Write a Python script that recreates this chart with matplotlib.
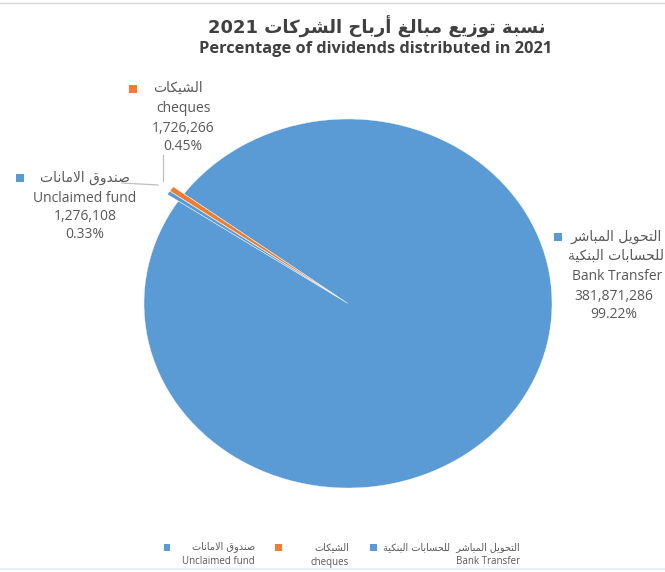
import re
import matplotlib
matplotlib.use("Agg")
import matplotlib.pyplot as plt
from matplotlib.patches import Rectangle
from matplotlib.lines import Line2D

# ---------------- data ----------------
title_ar = "نسبة توزيع مبالغ أرباح الشركات 2021"
title_en = "Percentage of dividends distributed in 2021"
cat_ar = ["التحويل المباشر للحسابات البنكية", "الشيكات", "صندوق الامانات"]
cat_en = ["Bank Transfer", "cheques", "Unclaimed fund"]
values = [381871286, 1726266, 1276108]
value_labels = ["381,871,286", "1,726,266", "1,276,108"]
pct_labels = ["99.22%", "0.45%", "0.33%"]
colors = ["#5B9BD5", "#ED7D31", "#5B9BD5"]

# ------------- minimal Arabic shaping (presentation forms) -------------
FORMS = {
    '\u0627': ('\uFE8D', '\uFE8E', None, None),
    '\u0623': ('\uFE83', '\uFE84', None, None),
    '\u0628': ('\uFE8F', '\uFE90', '\uFE91', '\uFE92'),
    '\u0629': ('\uFE93', '\uFE94', None, None),
    '\u062A': ('\uFE95', '\uFE96', '\uFE97', '\uFE98'),
    '\u062D': ('\uFEA1', '\uFEA2', '\uFEA3', '\uFEA4'),
    '\u062F': ('\uFEA9', '\uFEAA', None, None),
    '\u0631': ('\uFEAD', '\uFEAE', None, None),
    '\u0632': ('\uFEAF', '\uFEB0', None, None),
    '\u0633': ('\uFEB1', '\uFEB2', '\uFEB3', '\uFEB4'),
    '\u0634': ('\uFEB5', '\uFEB6', '\uFEB7', '\uFEB8'),
    '\u0635': ('\uFEB9', '\uFEBA', '\uFEBB', '\uFEBC'),
    '\u0639': ('\uFEC9', '\uFECA', '\uFECB', '\uFECC'),
    '\u063A': ('\uFECD', '\uFECE', '\uFECF', '\uFED0'),
    '\u0642': ('\uFED5', '\uFED6', '\uFED7', '\uFED8'),
    '\u0643': ('\uFED9', '\uFEDA', '\uFEDB', '\uFEDC'),
    '\u0644': ('\uFEDD', '\uFEDE', '\uFEDF', '\uFEE0'),
    '\u0645': ('\uFEE1', '\uFEE2', '\uFEE3', '\uFEE4'),
    '\u0646': ('\uFEE5', '\uFEE6', '\uFEE7', '\uFEE8'),
    '\u0648': ('\uFEED', '\uFEEE', None, None),
    '\u064A': ('\uFEF1', '\uFEF2', '\uFEF3', '\uFEF4'),
}
LAMALEF = {'\u0627': ('\uFEFB', '\uFEFC', None, None),
           '\u0623': ('\uFEF7', '\uFEF8', None, None)}


def shape(s):
    toks = []
    i = 0
    while i < len(s):
        c = s[i]
        if c == '\u0644' and i + 1 < len(s) and s[i + 1] in LAMALEF:
            toks.append(LAMALEF[s[i + 1]])
            i += 2
            continue
        toks.append(FORMS.get(c, c))
        i += 1
    out = []
    for k, t in enumerate(toks):
        if isinstance(t, str):
            out.append(t)
            continue
        prev = k > 0 and isinstance(toks[k - 1], tuple) and toks[k - 1][2] is not None
        nxt = (t[2] is not None and k + 1 < len(toks) and isinstance(toks[k + 1], tuple))
        if prev and nxt:
            out.append(t[3])
        elif prev:
            out.append(t[1])
        elif nxt:
            out.append(t[2])
        else:
            out.append(t[0])
    return ''.join(out)


def ar(s):
    shaped = shape(s)
    runs = re.findall(r'[0-9,.%]+|[^0-9,.%]+', shaped)
    runs = runs[::-1]
    return ''.join(r if re.fullmatch(r'[0-9,.%]+', r) else r[::-1] for r in runs)


FAM = ['Open Sans', 'DejaVu Sans']
FAM_AR = ['DejaVu Sans']
GRAY = '#595959'

W, H = 665, 572
fig = plt.figure(figsize=(W / 100, H / 100), dpi=100)


def fx(px):
    return px / W


def fy(py):
    return 1 - py / H


# pie axes: ellipse centre (348, 303.5), rx 204, ry 184.5 px
cx, cy, rx, ry = 348, 303.5, 204, 184.5
lim = 1.3
ax = fig.add_axes([fx(cx - lim * rx), fy(cy + lim * ry), 2 * lim * rx / W, 2 * lim * ry / H])
ax.pie(values, colors=colors, startangle=146.3, counterclock=True,
       explode=[0, 0.065, 0.065],
       wedgeprops=dict(edgecolor='white', linewidth=0.25))
ax.set_aspect('auto')
ax.set_xlim(-lim, lim)
ax.set_ylim(-lim, lim)
ax.axis('off')

# frame lines
fig.add_artist(Line2D([0, 1], [fy(3), fy(3)], color='#D9D9D9', lw=1))
fig.add_artist(Line2D([0, 1], [fy(569), fy(569)], color='#E6EEF6', lw=1.5))

# title
fig.text(fx(377), fy(27), ar(title_ar), family=FAM_AR, fontsize=13,
         fontweight='bold', color='#404040', ha='center', va='center')
fig.text(fx(376), fy(49), title_en, family=FAM, fontsize=11.8,
         fontweight='bold', color='#404040', ha='center', va='center')

fs = 10


def sq(px, py, col, size=8):
    fig.add_artist(Rectangle((fx(px - size / 2), fy(py + size / 2)), size / W, size / H,
                             facecolor=col, edgecolor='none', transform=fig.transFigure))


# data label: cheques
sq(133, 89, colors[1])
fig.text(fx(178), fy(88), ar(cat_ar[1]), family=FAM_AR, fontsize=fs, color=GRAY, ha='center', va='center')
fig.text(fx(183), fy(109), cat_en[1], family=FAM, fontsize=fs, color=GRAY, ha='center', va='center')
fig.text(fx(183), fy(128), value_labels[1], family=FAM, fontsize=fs, color=GRAY, ha='center', va='center')
fig.text(fx(183), fy(147), pct_labels[1], family=FAM, fontsize=fs, color=GRAY, ha='center', va='center')
fig.add_artist(Line2D([fx(163), fx(163)], [fy(155), fy(181)], color='#BFBFBF', lw=0.9))

# data label: unclaimed
sq(20, 178, colors[2])
fig.text(fx(85), fy(178), ar(cat_ar[2]), family=FAM_AR, fontsize=fs, color=GRAY, ha='center', va='center')
fig.text(fx(85), fy(198), cat_en[2], family=FAM, fontsize=fs, color=GRAY, ha='center', va='center')
fig.text(fx(85), fy(216), value_labels[2], family=FAM, fontsize=fs, color=GRAY, ha='center', va='center')
fig.text(fx(85), fy(235), pct_labels[2], family=FAM, fontsize=fs, color=GRAY, ha='center', va='center')
fig.add_artist(Line2D([fx(122), fx(158)], [fy(183), fy(185)], color='#BFBFBF', lw=0.9))

# data label: bank transfer
sq(558, 237, colors[0])
w1, w2 = cat_ar[0].split(' ', 2)[:2], cat_ar[0].split(' ', 2)[2]
fig.text(fx(616), fy(237), ar(' '.join(w1)), family=FAM_AR, fontsize=fs, color=GRAY, ha='center', va='center')
fig.text(fx(616), fy(256), ar(w2), family=FAM_AR, fontsize=fs, color=GRAY, ha='center', va='center')
fig.text(fx(572), fy(276), cat_en[0], family=FAM, fontsize=fs, color=GRAY, ha='left', va='center')
fig.text(fx(614), fy(296), value_labels[0], family=FAM, fontsize=fs, color=GRAY, ha='center', va='center')
fig.text(fx(614), fy(314), pct_labels[0], family=FAM, fontsize=fs, color=GRAY, ha='center', va='center')

# legend
lfs = 7
leg = [  # (square x, text right x, index)
    (167, 255, 2),
    (278, 349, 1),
    (373, 520, 0),
]
for sxp, rxp, idx in leg:
    sq(sxp, 547, colors[idx], size=7)
    lab_ar = cat_ar[idx] if idx != 0 else cat_ar[0].replace('المباشر ', 'المباشر  ')
    fig.text(fx(rxp), fy(547), ar(lab_ar), family=FAM_AR, fontsize=lfs, color=GRAY, ha='right', va='center')
    fig.text(fx(rxp), fy(562), cat_en[idx], family=FAM, fontsize=lfs, color=GRAY, ha='right', va='center')

fig.savefig('out.png', dpi=100, facecolor='white')
